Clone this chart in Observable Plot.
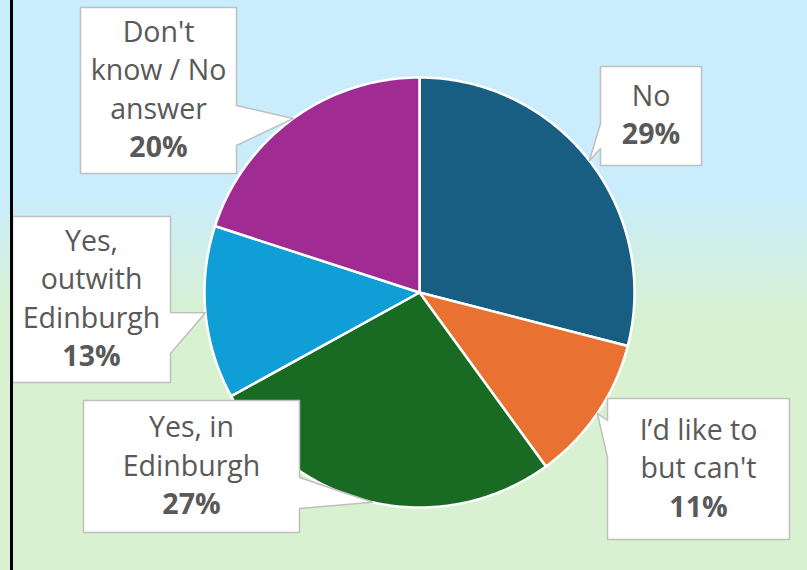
<!DOCTYPE html>
<html><head><meta charset="utf-8">
<script src="https://cdn.jsdelivr.net/npm/d3@7"></script>
<script src="https://cdn.jsdelivr.net/npm/@observablehq/plot@0.6"></script>
<style>
html,body{margin:0;padding:0;background:#fff;}
#chart{width:807px;height:570px;position:relative;overflow:hidden;
  background:linear-gradient(to bottom,#C9EDFC 0%,#C9EDFC 34%,#D8F1D1 56%,#D8F1D1 100%);}
#chart::before{content:"";position:absolute;left:10px;top:0;width:3px;height:570px;background:#000;z-index:2;}
#chart svg{position:absolute;left:0;top:0;}
</style></head><body><div id="chart"></div>
<script>
// ---- data ----
const categories = ["No", "I\u2019d like to but can't", "Yes, in Edinburgh", "Yes, outwith Edinburgh", "Don't know / No answer"];
const labelLines = [["No"], ["I\u2019d like to", "but can't"], ["Yes, in", "Edinburgh"], ["Yes,", "outwith", "Edinburgh"], ["Don't", "know / No", "answer"]];
const values = [29, 11, 27, 13, 20];
const colors = ["#175E82", "#E97132", "#196B24", "#0F9ED5", "#A02B93"];

// ---- layout (pixels) ----
const W = 807, H = 570;
const center = [419, 292], radius = 215;
const boxes = [ // [x0,y0,x1,y1], pointer side, pointer span along that side
  {box: [600, 66, 701, 165], side: "left", span: [123, 148]},
  {box: [607, 398, 789, 539], side: "left", span: [420, 457]},
  {box: [83, 400, 299, 532], side: "right", span: [477, 508]},
  {box: [12, 216, 170, 382], side: "right", span: [312, 353]},
  {box: [80, 7, 236, 173], side: "right", span: [105, 145]}
];
const lineH = 38.5;
const fontSize = 28.5;

const total = d3.sum(values);
const arcs = d3.pie().sort(null).value(d => d)(values);

const slicePts = [];
arcs.forEach((a, i) => {
  slicePts.push({x: center[0], y: center[1], k: categories[i]});
  const n = Math.max(2, Math.ceil((a.endAngle - a.startAngle) / 0.01));
  for (let j = 0; j <= n; j++) {
    const t = a.startAngle + (a.endAngle - a.startAngle) * j / n;
    slicePts.push({x: center[0] + radius * Math.sin(t), y: center[1] - radius * Math.cos(t), k: categories[i]});
  }
});

const calloutPts = [];
const texts = [];
arcs.forEach((a, i) => {
  const m = (a.startAngle + a.endAngle) / 2;
  const tip = [center[0] + radius * Math.sin(m), center[1] - radius * Math.cos(m)];
  const {box: [x0, y0, x1, y1], side, span: [pa, pb]} = boxes[i];
  let pts;
  if (side === "left") pts = [[x0, y0], [x1, y0], [x1, y1], [x0, y1], [x0, pb], tip, [x0, pa]];
  else pts = [[x0, y0], [x1, y0], [x1, pa], tip, [x1, pb], [x1, y1], [x0, y1]];
  pts.forEach(p => calloutPts.push({x: p[0], y: p[1], k: categories[i]}));
  const lines = [...labelLines[i], `${Math.round(values[i] / total * 100)}%`];
  const cx = (x0 + x1) / 2, cy = (y0 + y1) / 2;
  lines.forEach((s, j) => texts.push({x: cx, y: cy + (j - (lines.length - 1) / 2) * lineH, s, bold: j === lines.length - 1}));
});

const plot = Plot.plot({
  width: W, height: H,
  margin: 0,
  x: {domain: [0, W], axis: null},
  y: {domain: [H, 0], axis: null},
  color: {domain: categories, range: colors},
  style: {background: "transparent", overflow: "visible"},
  marks: [
    Plot.line(slicePts, {x: "x", y: "y", z: "k", fill: "k", stroke: "#fff", strokeWidth: 2.5, curve: "linear-closed", strokeLinejoin: "round"}),
    Plot.line(calloutPts, {x: "x", y: "y", z: "k", fill: "#fff", stroke: "#BFBFBF", strokeWidth: 1.5, curve: "linear-closed"}),
    Plot.text(texts.filter(d => !d.bold), {x: "x", y: "y", text: "s", fill: "#595959", fontSize, fontFamily: "Open Sans", textAnchor: "middle", lineAnchor: "middle"}),
    Plot.text(texts.filter(d => d.bold), {x: "x", y: "y", text: "s", fill: "#595959", fontSize, fontWeight: "bold", fontFamily: "Open Sans", textAnchor: "middle", lineAnchor: "middle"})
  ]
});
document.getElementById("chart").appendChild(plot);
</script>
</body></html>
